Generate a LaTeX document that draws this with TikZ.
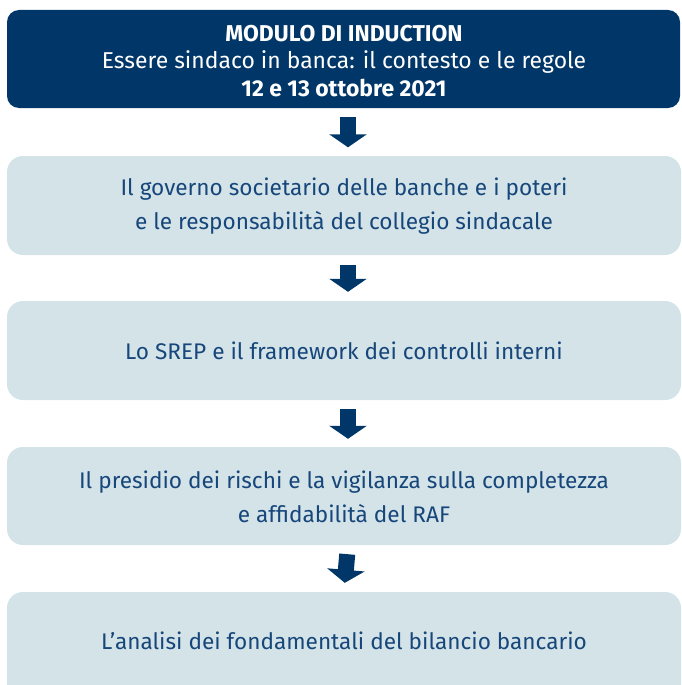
\documentclass[tikz,border=0pt]{standalone}
\usepackage{fontspec}
\setmainfont{Fira Sans}
\usetikzlibrary{arrows.meta}
\definecolor{navy}{RGB}{0,55,104}
\definecolor{pale}{RGB}{211,227,232}
\definecolor{ink}{RGB}{22,70,122}
\tikzset{
  box/.style={fill=pale, rounded corners=16pt, draw=none},
  txt/.style={align=center, text=ink, font=\fontsize{22.6}{34}\selectfont},
  flow/.style={draw=navy, line width=16pt, shorten <=9pt, shorten >=9pt,
    -{Triangle[width=37pt,length=13pt]}},
}
\begin{document}
\begin{tikzpicture}[x=1pt,y=-1pt]
\useasboundingbox (0,0) rectangle (682,685);
\clip (0,0) rectangle (682,685);
\fill[navy, rounded corners=12pt] (7,10) rectangle (680,108);
\node (h) at (344,61) [align=center, text=white, font=\fontsize{22.9}{27.5}\selectfont, minimum width=673pt, minimum height=94pt]
 {\textbf{MODULO DI INDUCTION}\\Essere sindaco in banca: il contesto e le regole\\\textbf{12 e 13 ottobre 2021}};
\fill[box] (7,156) rectangle (681,255);
\node (b1) at (344,206) [txt, minimum width=674pt, minimum height=99pt] {Il governo societario delle banche e i poteri\\e le responsabilità del collegio sindacale};
\fill[box] (7,301) rectangle (681,400);
\node (b2) at (344,350.5) [txt, minimum width=674pt, minimum height=99pt] {Lo SREP e il framework dei controlli interni};
\fill[box] (7,447) rectangle (681,545);
\node (b3) at (344,496.5) [txt, minimum width=674pt, minimum height=97pt] {Il presidio dei rischi e la vigilanza sulla completezza\\e affidabilità del RAF};
\fill[box] (7,592) rectangle (681,705);
\node (b4) at (344,641) [txt] {L’analisi dei fondamentali del bilancio bancario};
\node (b4top) at (344,592) [inner sep=0pt, minimum size=0pt] {};
\draw[flow] ([xshift=4pt]h.south) -- ([xshift=4pt]b1.north);
\draw[flow] ([xshift=4pt]b1.south) -- ([xshift=4pt]b2.north);
\draw[flow] ([xshift=4pt]b2.south) -- ([xshift=4pt]b3.north);
\draw[flow] ([xshift=4pt]b3.south) -- ([xshift=4pt]b4top);
\end{tikzpicture}
\end{document}
